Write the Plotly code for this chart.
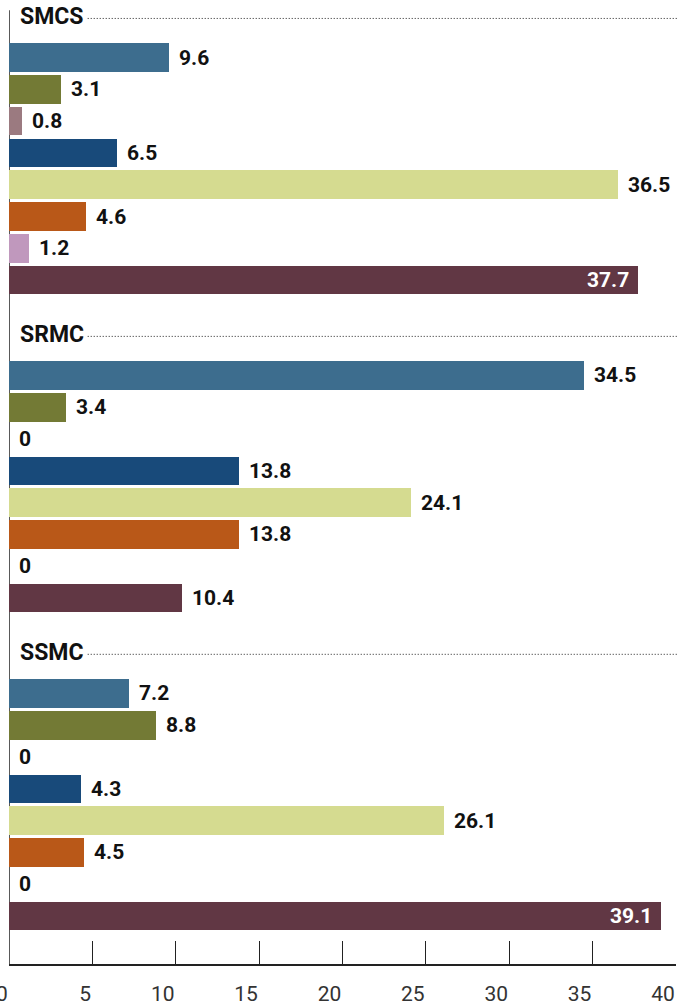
import plotly.graph_objects as go

# Three groups, eight bars each (percentages)
groups = ["SMCS", "SRMC", "SSMC"]
values = [
    [9.6, 3.1, 0.8, 6.5, 36.5, 4.6, 1.2, 37.7],
    [34.5, 3.4, 0, 13.8, 24.1, 13.8, 0, 10.4],
    [7.2, 8.8, 0, 4.3, 26.1, 4.5, 0, 39.1],
]
bar_colors = ["#3d6d8e", "#737a35", "#9b7a80", "#184a7a",
              "#d5db90", "#b95818", "#c098bd", "#613744"]
x_ticks = [0, 5, 10, 15, 20, 25, 30, 35, 40]

FONT = "Roboto, Arial, sans-serif"
SLOTS_PER_GROUP = 10

ys, xs, cols = [], [], []
annotations = []
shapes = []
for g, (name, vals) in enumerate(zip(groups, values)):
    base = g * SLOTS_PER_GROUP
    header_y = base - 1.28
    annotations.append(dict(
        x=0, xref="x", y=header_y, yref="y", text=f"<b>{name}</b>",
        showarrow=False, xanchor="left", yanchor="middle", xshift=9,
        font=dict(family=FONT, size=23, color="#111")))
    shapes.append(dict(
        type="line", xref="paper", yref="y", x0=0.118, x1=1.003,
        y0=header_y + 0.05, y1=header_y + 0.05,
        line=dict(color="#222", width=1, dash="1px,2px")))
    for i, v in enumerate(vals):
        y = base + i
        ys.append(y)
        xs.append(v)
        cols.append(bar_colors[i])
        inside = v > 37
        annotations.append(dict(
            x=v, xref="x", y=y, yref="y", text=f"<b>{v:g}</b>",
            showarrow=False,
            xanchor="right" if inside else "left",
            xshift=-7 if inside else 8,
            yanchor="middle",
            font=dict(family=FONT, size=21,
                      color="white" if inside else "#111")))

fig = go.Figure(go.Bar(
    x=xs, y=ys, orientation="h", width=0.9,
    marker=dict(color=cols, line=dict(width=0)),
    hoverinfo="x"))

y_top, y_bottom = -1.81, 28.51
# left baseline running from the first header down to the axis
shapes.append(dict(type="line", xref="x", yref="y", x0=0, x1=0,
                   y0=-1.49, y1=y_bottom, layer="below",
                   line=dict(color="#222", width=1.5)))

fig.update_layout(
    width=678, height=1008,
    margin=dict(l=9, r=2, t=0, b=44, autoexpand=False),
    paper_bgcolor="white", plot_bgcolor="white",
    showlegend=False,
    bargap=0,
    annotations=annotations,
    shapes=shapes,
    xaxis=dict(range=[0, 40], tickvals=x_ticks, ticks="inside", ticklen=23,
               tickwidth=1, tickcolor="#222", showline=True, linecolor="#222",
               linewidth=1.5, showgrid=False, zeroline=False,
               automargin=False,
               ticklabelposition="outside left", ticklabelstandoff=10,
               ticklabeloverflow="allow",
               tickfont=dict(family=FONT, size=21, color="#333")),
    yaxis=dict(range=[y_bottom, y_top], visible=False, showgrid=False,
               zeroline=False),
)

fig.write_html("out.html")
